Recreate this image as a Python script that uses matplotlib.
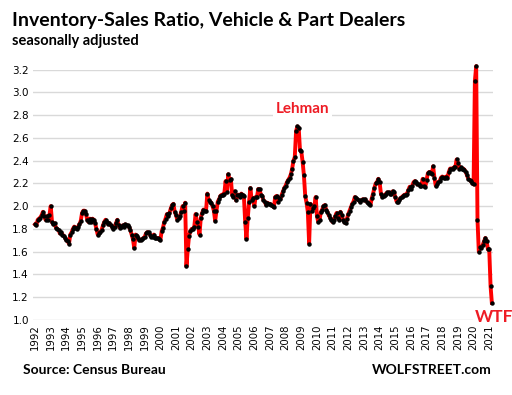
import numpy as np
import matplotlib
matplotlib.use("Agg")
import matplotlib.pyplot as plt

# monthly inventory/sales ratio, Jan 1992 - Mar 2021 (one row = one year)
ratio_1990s = [
    1.84, 1.83, 1.88, 1.89, 1.90, 1.92, 1.95, 1.91, 1.88, 1.91, 1.88, 1.92,  # 1992
    2.00, 1.86, 1.84, 1.85, 1.81, 1.80, 1.79, 1.76, 1.77, 1.75, 1.74, 1.72,  # 1993
    1.70, 1.69, 1.67, 1.75, 1.77, 1.80, 1.82, 1.81, 1.80, 1.82, 1.84, 1.87,  # 1994
    1.94, 1.96, 1.96, 1.93, 1.88, 1.86, 1.89, 1.86, 1.89, 1.88, 1.85, 1.80,  # 1995
    1.75, 1.76, 1.77, 1.79, 1.83, 1.86, 1.88, 1.86, 1.84, 1.85, 1.83, 1.82,  # 1996
    1.80, 1.82, 1.85, 1.88, 1.83, 1.81, 1.82, 1.83, 1.82, 1.84, 1.83, 1.83,  # 1997
    1.82, 1.79, 1.75, 1.71, 1.63, 1.75, 1.74, 1.72, 1.70, 1.70, 1.71, 1.72,  # 1998
    1.73, 1.76, 1.77, 1.77, 1.75, 1.73, 1.73, 1.75, 1.72, 1.72, 1.72, 1.71,  # 1999
]
ratio_2000s = [
    1.70, 1.78, 1.81, 1.86, 1.89, 1.93, 1.91, 1.94, 1.98, 2.01, 2.02, 1.95,  # 2000
    1.92, 1.88, 1.90, 1.91, 1.95, 2.00, 1.96, 2.03, 1.47, 1.62, 1.74, 1.78,  # 2001
    1.80, 1.80, 1.82, 1.93, 1.86, 1.82, 1.75, 1.90, 1.94, 1.97, 1.96, 1.96,  # 2002
    2.11, 2.05, 2.04, 2.03, 2.00, 1.96, 1.87, 1.96, 2.04, 2.06, 2.09, 2.10,  # 2003
    2.10, 2.11, 2.22, 2.12, 2.28, 2.23, 2.24, 2.10, 2.08, 2.13, 2.05, 2.10,  # 2004
    2.10, 2.08, 2.11, 2.10, 2.09, 1.86, 1.71, 1.90, 2.04, 2.16, 2.05, 2.07,  # 2005
    2.00, 2.08, 2.08, 2.15, 2.15, 2.10, 2.09, 2.05, 2.04, 2.01, 2.03, 2.02,  # 2006
    2.02, 2.01, 2.00, 1.99, 2.08, 2.09, 2.04, 2.07, 2.06, 2.10, 2.13, 2.16,  # 2007
    2.18, 2.21, 2.23, 2.25, 2.28, 2.33, 2.40, 2.43, 2.66, 2.70, 2.69, 2.49,  # 2008
    2.48, 2.39, 2.27, 2.09, 2.03, 1.95, 1.67, 2.02, 1.96, 1.98, 2.00, 2.08,  # 2009
]
ratio_2010s = [
    1.91, 1.86, 1.88, 1.95, 1.97, 2.00, 2.01, 1.97, 1.95, 1.92, 1.90, 1.88,  # 2010
    1.86, 1.88, 1.91, 1.94, 1.90, 1.88, 1.95, 1.92, 1.88, 1.86, 1.85, 1.89,  # 2011
    1.93, 1.96, 1.99, 2.02, 2.04, 2.08, 2.07, 2.06, 2.05, 2.04, 2.05, 2.06,  # 2012
    2.05, 2.06, 2.04, 2.03, 2.02, 2.01, 2.07, 2.11, 2.16, 2.20, 2.21, 2.24,  # 2013
    2.21, 2.11, 2.08, 2.09, 2.10, 2.11, 2.12, 2.12, 2.11, 2.11, 2.13, 2.12,  # 2014
    2.08, 2.04, 2.04, 2.05, 2.07, 2.08, 2.09, 2.10, 2.10, 2.11, 2.14, 2.17,  # 2015
    2.15, 2.18, 2.21, 2.22, 2.21, 2.19, 2.19, 2.18, 2.18, 2.24, 2.18, 2.17,  # 2016
    2.23, 2.29, 2.30, 2.29, 2.28, 2.35, 2.25, 2.18, 2.19, 2.21, 2.22, 2.25,  # 2017
    2.26, 2.25, 2.25, 2.26, 2.25, 2.30, 2.33, 2.33, 2.33, 2.34, 2.34, 2.41,  # 2018
    2.38, 2.33, 2.34, 2.33, 2.33, 2.32, 2.30, 2.27, 2.24, 2.23, 2.22, 2.20,  # 2019
]
ratio_2020s = [
    2.19, 3.10, 3.23, 1.88, 1.60, 1.64, 1.63, 1.66, 1.69, 1.72, 1.69, 1.62,  # 2020
    1.62, 1.30, 1.15,                                                        # 2021
]

years = list(range(1992, 2022))
yticks = [1.0, 1.2, 1.4, 1.6, 1.8, 2.0, 2.2, 2.4, 2.6, 2.8, 3.0, 3.2]

ratio = np.array(ratio_1990s + ratio_2000s + ratio_2010s + ratio_2020s)
x = 1992 + np.arange(len(ratio)) / 12.0

fig = plt.figure(figsize=(5.12, 3.95), dpi=100)
ax = fig.add_axes([0.0645, 0.19, 0.899, 0.634])

ax.plot(x, ratio, color="#ff0000", lw=2.8, zorder=3, solid_joinstyle="round", clip_on=False)
ax.plot(x, ratio, ls="none", marker="o", ms=2.2, color="black", zorder=4, clip_on=False)

ax.set_xlim(1991.87, 2021.26)
ax.set_ylim(1.0, 3.2)
ax.set_yticks(yticks)
ax.set_yticklabels(["%.1f" % v for v in yticks], fontsize=7.5)
ax.set_xticks(years)
ax.set_xticklabels([str(y) for y in years], rotation=90, fontsize=7.3)
ax.tick_params(length=0, pad=3)
ax.grid(axis="y", color="#d9d9d9", lw=1)
ax.set_axisbelow(True)
for s in ax.spines.values():
    s.set_visible(False)

ax.text(2009.05, 2.85, "Lehman", color="#ee1c25", fontsize=11, fontweight="bold",
        family="Lato", ha="center", va="center",
        bbox=dict(facecolor="white", edgecolor="none", pad=2))
ax.text(2021.28, 1.03, "WTF", color="#ee1c25", fontsize=12.5, fontweight="bold",
        family="Lato", ha="center", va="center", clip_on=False, zorder=5,
        bbox=dict(facecolor="white", edgecolor="none", pad=1))

fig.text(0.023, 0.935, "Inventory-Sales Ratio, Vehicle & Part Dealers",
         fontsize=14, fontweight="bold", family="Lato")
fig.text(0.023, 0.885, "seasonally adjusted", fontsize=10.5, fontweight="bold", family="Lato")
fig.text(0.045, 0.052, "Source: Census Bureau", fontsize=10, fontweight="bold", family="Lato")
fig.text(0.96, 0.052, "WOLFSTREET.com", fontsize=10, fontweight="bold", family="Lato", ha="right")

fig.savefig("out.png", dpi=100)
